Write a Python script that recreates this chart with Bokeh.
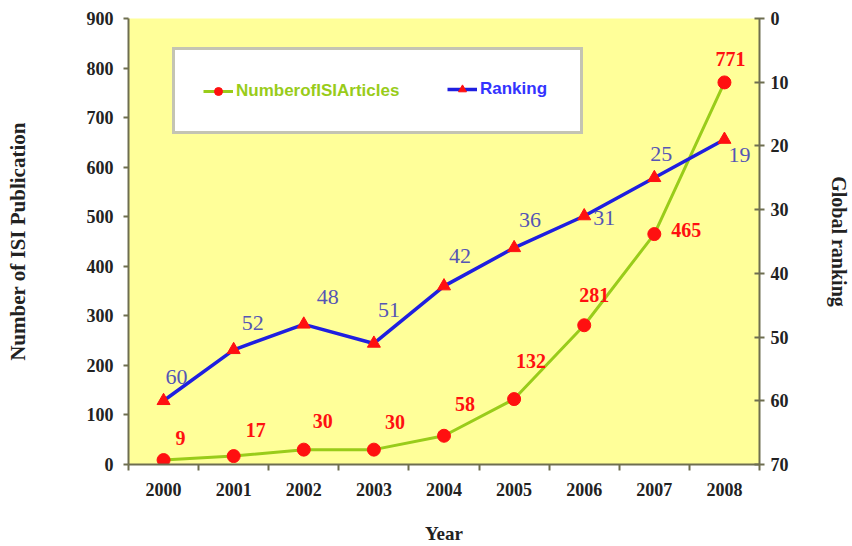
from bokeh.plotting import figure
from bokeh.models import (Range1d, LinearAxis, FixedTicker, Legend, LegendItem,
                          ColumnDataSource)
from bokeh.core.properties import value
from bokeh.embed import file_html
from bokeh.resources import INLINE

# ---- data ----
years = ["2000", "2001", "2002", "2003", "2004", "2005", "2006", "2007", "2008"]
articles = [9, 17, 30, 30, 58, 132, 281, 465, 771]
ranking = [60, 52, 48, 51, 42, 36, 31, 25, 19]
article_ticks = [0, 100, 200, 300, 400, 500, 600, 700, 800, 900]
ranking_ticks = [0, 10, 20, 30, 40, 50, 60, 70]

# ---- label placement (screen px, y down) ----
art_dx = [17, 22, 19, 21, 21, 17, 10, 32, 6]
art_dy = [-22, -26, -29, -28, -32, -38, -30, -4, -23]
rank_dx = [13, 19, 24, 15, 16, 16, 20, 7, 15]
rank_dy = [-24, -27, -27, -33, -30, -28, 2, -24, 15]

n = len(years)
xs = [i + 0.5 for i in range(n)]

SERIF = "Liberation Serif"
AXIS_COL = "#6e6e50"
GREEN = "#99cc1a"
BLUE = "#1f1fe0"
RED = "#ff1010"

p = figure(width=852, height=546, x_range=Range1d(0, n), y_range=Range1d(0, 900),
           output_backend="svg", toolbar_location=None,
           min_border_left=128, min_border_right=90, min_border_top=18,
           min_border_bottom=82)
p.background_fill_color = "#ffff99"
p.border_fill_color = "white"
p.outline_line_color = None
p.grid.visible = False
p.extra_y_ranges = {"rank": Range1d(70, 0)}

# x axis
xa = p.xaxis[0]
xa.ticker = FixedTicker(ticks=xs, minor_ticks=list(range(n + 1)))
xa.major_label_overrides = {x: y for x, y in zip(xs, years)}
xa.major_tick_out = 0
xa.major_tick_in = 0
xa.minor_tick_out = 6
xa.minor_tick_in = 0
xa.axis_label = "Year"
xa.axis_label_standoff = 24
xa.major_label_standoff = 12

# left axis
ya = p.yaxis[0]
ya.ticker = FixedTicker(ticks=article_ticks)
ya.major_tick_out = 5
ya.major_tick_in = 0
ya.minor_tick_out = 0
ya.minor_tick_in = 0
ya.axis_label = "Number of ISI Publication"
ya.axis_label_standoff = 54
ya.major_label_standoff = 10

# right axis
ra = LinearAxis(y_range_name="rank", ticker=FixedTicker(ticks=ranking_ticks))
ra.major_tick_out = 5
ra.major_tick_in = 5
ra.minor_tick_out = 0
ra.minor_tick_in = 0
ra.axis_label = "Global ranking"
ra.axis_label_standoff = 36
ra.major_label_standoff = 6
p.add_layout(ra, "right")

for ax in [xa, ya, ra]:
    ax.axis_line_color = AXIS_COL
    ax.axis_line_width = 2
    ax.major_tick_line_color = AXIS_COL
    ax.minor_tick_line_color = AXIS_COL
    ax.major_tick_line_width = 2
    ax.minor_tick_line_width = 2
    ax.major_label_text_font = SERIF
    ax.major_label_text_font_style = "bold"
    ax.major_label_text_font_size = "18px"
    ax.major_label_text_color = "#222222"
    ax.axis_label_text_font = SERIF
    ax.axis_label_text_font_style = "bold"
    ax.axis_label_text_font_size = "20px"
    ax.axis_label_text_color = "#222222"
ya.axis_label_text_font_size = "21px"
xa.axis_label_text_font_size = "19px"

# series
src = ColumnDataSource(dict(x=xs, art=articles, rank=ranking,
                            art_txt=[str(v) for v in articles],
                            rank_txt=[str(v) for v in ranking],
                            adx=art_dx, ady=art_dy, rdx=rank_dx, rdy=rank_dy))

gl = p.line("x", "art", source=src, line_color=GREEN, line_width=3)
gm = p.scatter("x", "art", source=src, marker="circle", size=13,
               fill_color=RED, line_color=RED)
bl = p.line("x", "rank", source=src, y_range_name="rank", line_color=BLUE, line_width=3.5)
bm = p.scatter("x", "rank", source=src, y_range_name="rank", marker="triangle", size=13,
               fill_color=RED, line_color=RED)

p.text("x", "art", text="art_txt", source=src, x_offset="adx", y_offset="ady",
       text_font=value(SERIF), text_font_style="bold", text_font_size="20px",
       text_color=RED, text_align="center", text_baseline="middle")
p.text("x", "rank", text="rank_txt", source=src, y_range_name="rank",
       x_offset="rdx", y_offset="rdy",
       text_font=value(SERIF), text_font_size="22px",
       text_color="#5555b5", text_align="center", text_baseline="middle")

# legends
leg1 = Legend(items=[LegendItem(label="NumberofISIArticles", renderers=[gl, gm])],
              location=(44, 330), orientation="horizontal",
              background_fill_color="white", background_fill_alpha=1,
              border_line_color="#8a8a68", border_line_width=3,
              padding=28, margin=0, label_width=316, label_height=25,
              glyph_width=30, glyph_height=20, label_standoff=3,
              label_text_color=GREEN, label_text_font="Liberation Sans",
              label_text_font_style="bold", label_text_font_size="17px")
leg2 = Legend(items=[LegendItem(label="Ranking", renderers=[bl, bm])],
              location=(319, 365), orientation="horizontal",
              background_fill_alpha=0, border_line_color=None,
              padding=0, margin=0, label_height=20,
              glyph_width=30, glyph_height=20, label_standoff=3,
              label_text_color="#3333ff", label_text_font="Liberation Sans",
              label_text_font_style="bold", label_text_font_size="17px")
p.add_layout(leg1, "center")
p.add_layout(leg2, "center")

open("out.html", "w").write(file_html(p, INLINE))
